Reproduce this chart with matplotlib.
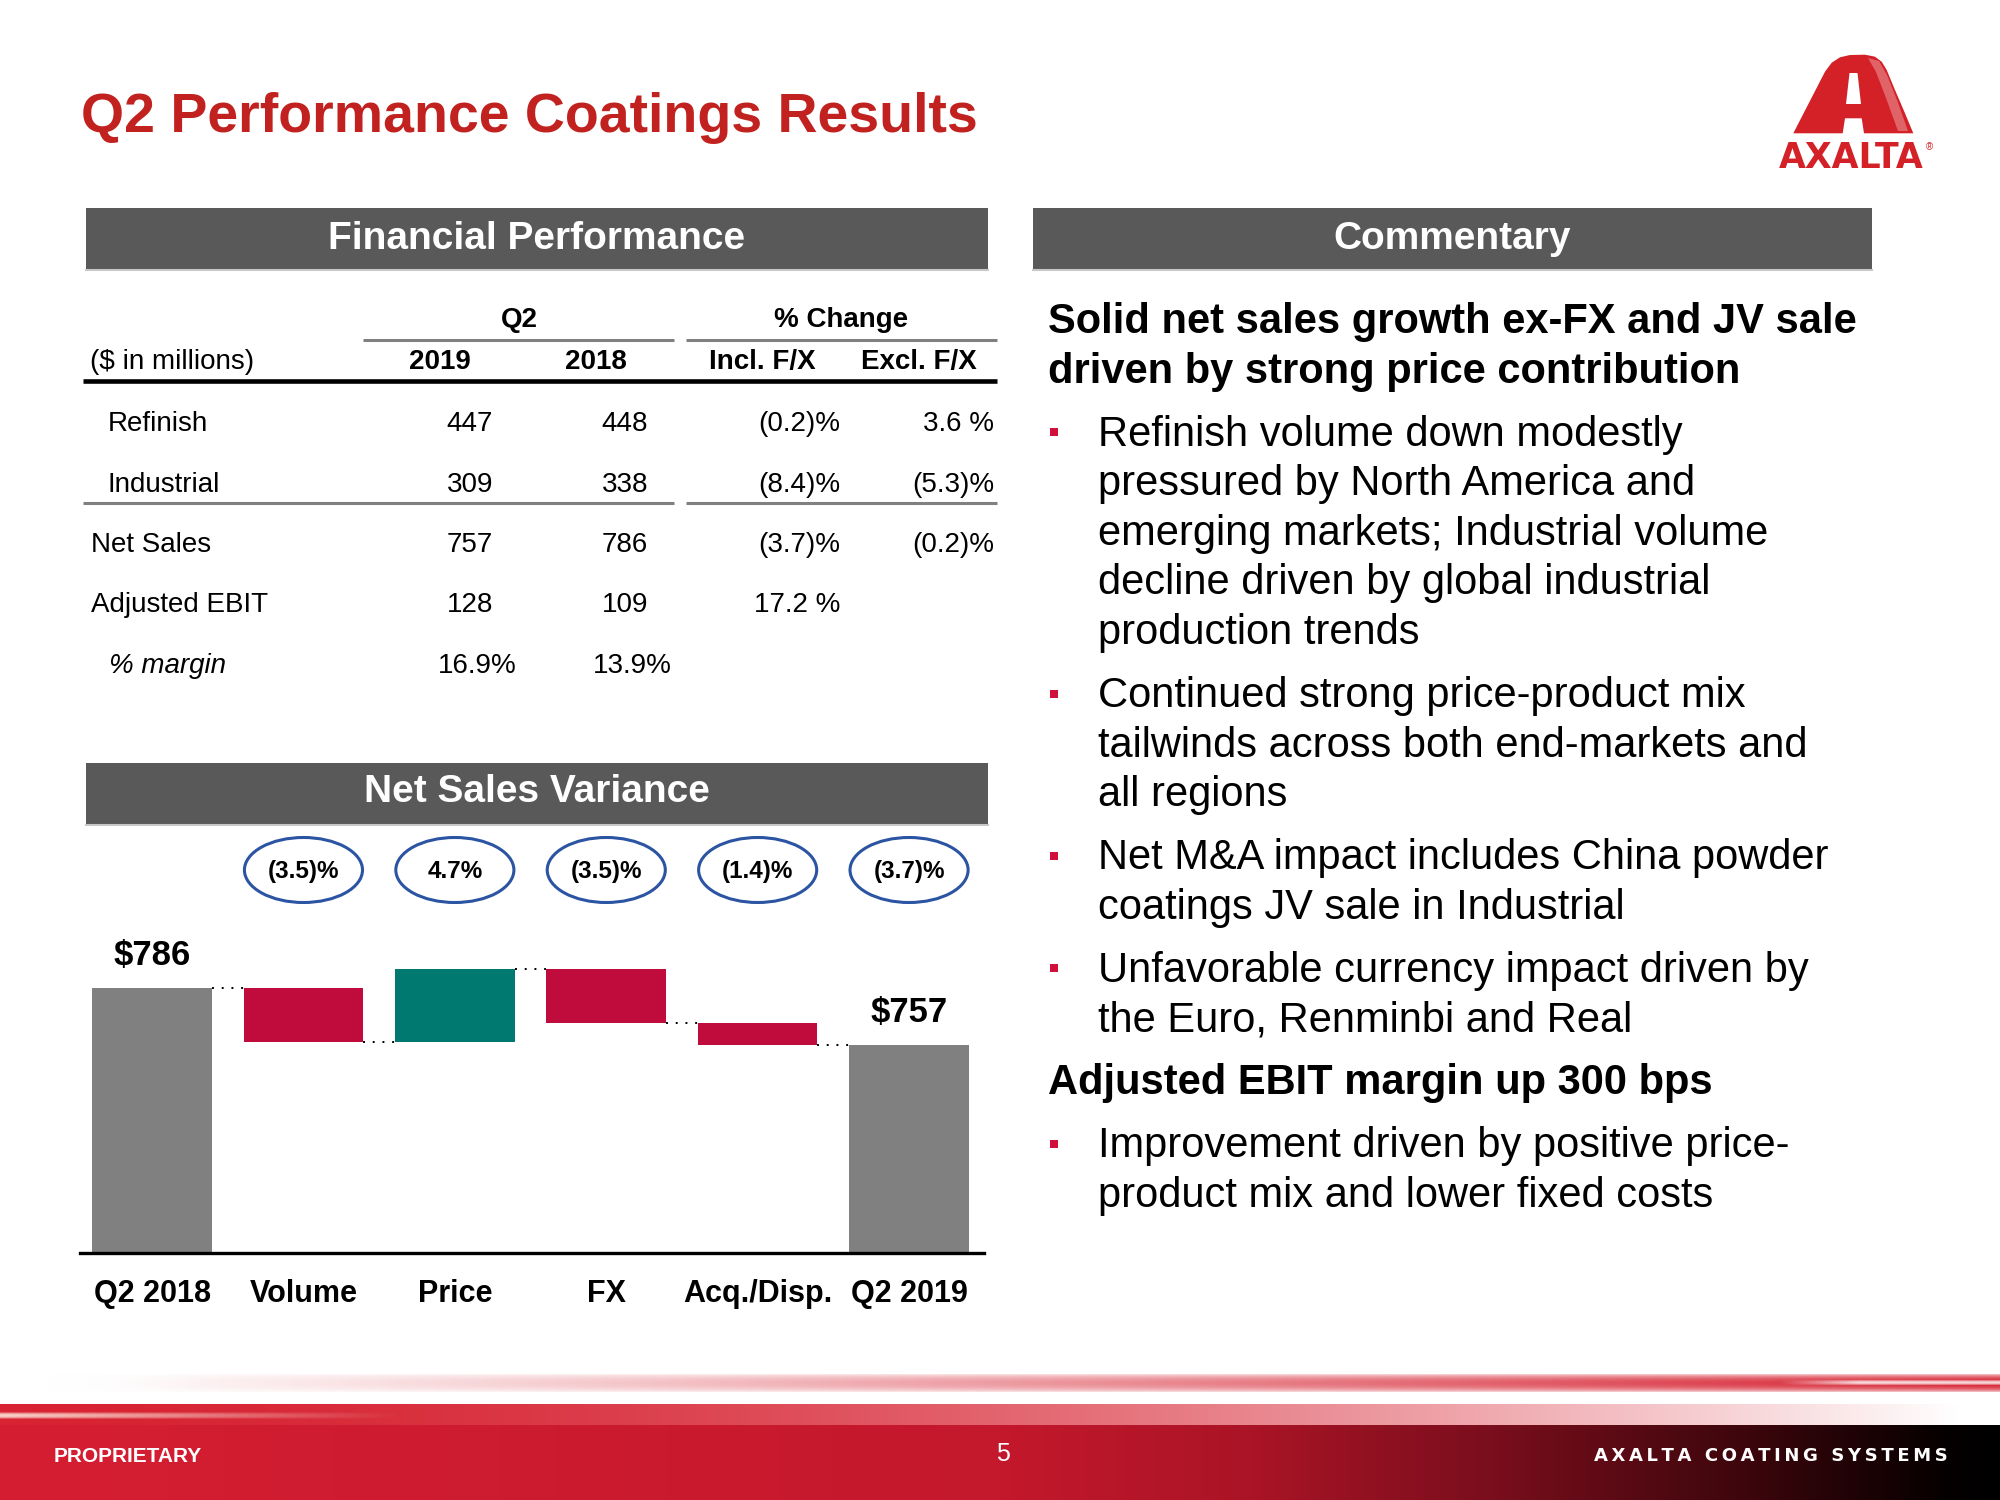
import numpy as np
import matplotlib.pyplot as plt
from matplotlib.patches import Rectangle, Ellipse, Polygon
from matplotlib.transforms import blended_transform_factory

plt.rcParams['font.family'] = ['Liberation Sans', 'DejaVu Sans']

# ---- data ----
# financial performance table ($ in millions)
row_labels = ['Refinish', 'Industrial', 'Net Sales', 'Adjusted EBIT', '% margin']
q2_2019 = ['447', '309', '757', '128', '16.9%']
q2_2018 = ['448', '338', '786', '109', '13.9%']
chg_incl = ['(0.2)%', '(8.4)%', '(3.7)%', '17.2 %', '']
chg_excl = ['3.6 %', '(5.3)%', '(0.2)%', '', '']

# net sales variance (waterfall)
wf_labels = ['Q2 2018', 'Volume', 'Price', 'FX', 'Acq./Disp.', 'Q2 2019']
wf_start = 786
wf_deltas = [-27.5, 37.0, -27.5, -11.0]
wf_end = 757
wf_pct = ['(3.5)%', '4.7%', '(3.5)%', '(1.4)%', '(3.7)%']

# commentary
head1 = ['Solid net sales growth ex-FX and JV sale',
         'driven by strong price contribution']
bullets1 = [
    ['Refinish volume down modestly', 'pressured by North America and',
     'emerging markets; Industrial volume', 'decline driven by global industrial',
     'production trends'],
    ['Continued strong price-product mix', 'tailwinds across both end-markets and',
     'all regions'],
    ['Net M&A impact includes China powder', 'coatings JV sale in Industrial'],
    ['Unfavorable currency impact driven by', 'the Euro, Renminbi and Real'],
]
head2 = ['Adjusted EBIT margin up 300 bps']
bullets2 = [['Improvement driven by positive price-', 'product mix and lower fixed costs']]

RED = '#D42027'
TITLE_RED = '#C1221F'
HDR_GRAY = '#595959'
BAR_GRAY = '#808080'
BAR_RED = '#C00C3C'
BAR_TEAL = '#007A70'
OVAL = '#2B54A2'

fig = plt.figure(figsize=(20, 15), dpi=100)
bg = fig.add_axes([0, 0, 1, 1])
bg.axis('off')

# ---- title ----
bg.text(81, 132, 'Q2 Performance Coatings Results', color=TITLE_RED,
        fontsize=40, fontweight='bold', ha='left', va='baseline')

# ---- logo ----
outer = [(1793.3, 133.3), (1825, 71.7), (1831.7, 62.7), (1840, 57.3), (1850, 55),
         (1865, 54.7), (1875, 56.7), (1881.7, 61.7), (1886.7, 70), (1895, 90),
         (1905, 113.3), (1913.3, 133.3), (1864, 133.3), (1861.7, 118.3),
         (1845, 118.3), (1842.7, 133.3)]
bg.add_patch(Polygon(outer, closed=True, facecolor=RED, edgecolor='none', zorder=2))
gloss = [(1868, 58), (1879, 61), (1887, 75), (1897, 100), (1908, 131),
         (1898, 131), (1886, 98), (1876, 72)]
bg.add_patch(Polygon(gloss, closed=True, facecolor='white', alpha=0.3, edgecolor='none', zorder=3))
counter = [(1849.5, 73), (1857.5, 73), (1861, 104), (1846, 104)]
bg.add_patch(Polygon(counter, closed=True, facecolor='white', edgecolor='none', zorder=4))
bg.text(1851, 168, 'AXALTA', color=RED, fontsize=25, fontweight='bold',
        family='DejaVu Sans', ha='center', va='baseline')
bg.text(1929, 150, '®', color=RED, fontsize=7, ha='center', va='baseline')


# ---- section headers ----
def header(x0, x1, y0, y1, text, base):
    bg.add_patch(Rectangle((x0, y0), x1 - x0, y1 - y0, facecolor=HDR_GRAY, edgecolor='none'))
    bg.plot([x0, x1], [y1 + 1, y1 + 1], color='#C8C8C8', lw=1.5)
    bg.text((x0 + x1) / 2, base, text, color='white', fontsize=28,
            fontweight='bold', ha='center', va='baseline')


header(86, 988, 208, 269, 'Financial Performance', 249)
header(1033, 1872, 208, 269, 'Commentary', 249)
header(86, 988, 763, 824, 'Net Sales Variance', 802)

# ---- table ----
fs_t = 20
bg.text(519, 327, 'Q2', fontsize=fs_t, fontweight='bold', ha='center', va='baseline')
bg.text(841, 327, '% Change', fontsize=fs_t, fontweight='bold', ha='center', va='baseline')
bg.plot([363, 674], [340, 340], color='#808080', lw=2.2, solid_capstyle='butt')
bg.plot([686, 997], [340, 340], color='#808080', lw=2.2, solid_capstyle='butt')
bg.text(90, 369, '($ in millions)', fontsize=fs_t, ha='left', va='baseline')
for cx, t in zip([440, 596, 762, 919], ['2019', '2018', 'Incl. F/X', 'Excl. F/X']):
    bg.text(cx, 369, t, fontsize=fs_t, fontweight='bold', ha='center', va='baseline')
bg.plot([83, 997], [381, 381], color='black', lw=3.3, solid_capstyle='butt')
bg.plot([83, 674], [503, 503], color='#808080', lw=2.2, solid_capstyle='butt')
bg.plot([686, 997], [503, 503], color='#808080', lw=2.2, solid_capstyle='butt')

row_base = [431, 491.5, 552, 612.5, 673]
label_x = [108, 108, 91, 91, 109]
col_right = [493, 648, 840, 994]
for i, lab in enumerate(row_labels):
    style = 'italic' if lab.startswith('%') else 'normal'
    bg.text(label_x[i], row_base[i], lab, fontsize=fs_t, fontstyle=style,
            ha='left', va='baseline')
    for j, col in enumerate([q2_2019, q2_2018, chg_incl, chg_excl]):
        v = col[i]
        if not v:
            continue
        xr = col_right[j]
        if j < 2 and v.endswith('%'):
            xr += 24
        bg.text(xr, row_base[i], v, fontsize=fs_t, ha='right', va='baseline')

# ---- commentary ----
fs_c = 30
y = 333
blocks = [('h', head1)] + [('b', b) for b in bullets1] + [('h', head2)] + [('b', b) for b in bullets2]
for k, (kind, lines) in enumerate(blocks):
    if k > 0:
        y += 63
    if kind == 'b':
        bg.add_patch(Rectangle((1050, y - 17.5), 8, 8, facecolor='#D0103A', edgecolor='none'))
    for n, line in enumerate(lines):
        if n > 0:
            y += 49.6
        if kind == 'h':
            bg.text(1048, y, line, fontsize=fs_c, fontweight='bold', ha='left', va='baseline')
        else:
            bg.text(1098, y, line, fontsize=fs_c, ha='left', va='baseline')

# ---- waterfall ----
ax = fig.add_axes([80 / 2000, 1 - 1253 / 1500, 904 / 2000, 293 / 1500])
ax.set_facecolor('none')
levels = wf_start + np.cumsum([0] + wf_deltas)
xs = np.arange(len(wf_labels))
heights = [wf_start]
bottoms = [0]
colors = [BAR_GRAY]
for i, d in enumerate(wf_deltas):
    bottoms.append(min(levels[i], levels[i + 1]))
    heights.append(abs(d))
    colors.append(BAR_TEAL if d > 0 else BAR_RED)
heights.append(wf_end)
bottoms.append(0)
colors.append(BAR_GRAY)
w = 0.79
ax.bar(xs, heights, bottom=bottoms, width=w, color=colors, edgecolor='none')
for i in range(len(wf_labels) - 1):
    ax.plot([i + w / 2, i + 1 - w / 2], [levels[i], levels[i]], color='black',
            lw=1.4, ls=(0, (1, 4)))
for sp in ['top', 'left', 'right']:
    ax.spines[sp].set_visible(False)
ax.spines['bottom'].set_linewidth(2.4)
ax.spines['bottom'].set_color('black')
ax.set_xticks([])
ax.set_yticks([])

tr = blended_transform_factory(ax.transData, bg.transData)
for i, lab in enumerate(wf_labels):
    ax.text(i, 1302, lab, transform=tr, fontsize=22, fontweight='bold',
            ha='center', va='baseline', clip_on=False)
for i, v in [(0, wf_start), (len(wf_labels) - 1, wf_end)]:
    ax.annotate(f'${v}', (i, v), xytext=(0, 16.5), textcoords='offset points',
                fontsize=25, fontweight='bold', ha='center', va='baseline')
for i, p in enumerate(wf_pct):
    ax.add_patch(Ellipse((i + 1, 870), 0.78, 65, transform=tr, fill=False,
                         edgecolor=OVAL, lw=2.2, clip_on=False))
    ax.text(i + 1, 878, p, transform=tr, fontsize=17.5, fontweight='bold',
            ha='center', va='baseline', clip_on=False)
ax.set_xlim(-0.476, 5.495)
ax.set_ylim(651, 800)


# ---- footer ----
def lerp_rgb(xv, sx, cols):
    cols = np.array(cols, dtype=float) / 255
    return np.stack([np.interp(xv, sx, cols[:, k]) for k in range(3)], axis=-1)


nx = 1000
fx = np.linspace(0, 2000, nx)

# thin upper stripe
ny = 20
img = np.ones((ny, nx, 4))
t = np.clip((fx - 50) / 1950, 0, 1) ** 1.1
redc = np.array([215, 35, 50]) / 255
img[:, :, :3] = (1 - t[:, None]) * 1 + t[:, None] * redc
vy = np.sin(np.linspace(0, np.pi, ny)) ** 0.6
ax_a = np.clip((fx - 30) / 170, 0, 1)
img[:, :, 3] = vy[:, None] * ax_a[None, :]
bg.imshow(img, extent=(0, 2000, 1393, 1373), aspect='auto', interpolation='bilinear', zorder=1)
hl = np.ones((6, nx, 4))
hl[:, :, 3] = np.clip((fx - 1780) / 80, 0, 1) * 0.85 * np.sin(np.linspace(0, np.pi, 6))[:, None]
bg.imshow(hl, extent=(0, 2000, 1386, 1379), aspect='auto', interpolation='bilinear', zorder=2)

# band top strip
img2 = np.ones((1, nx, 4))
t2 = np.clip(fx / 1960, 0, 1) ** 1.8
img2[0, :, :3] = (1 - t2[:, None]) * redc + t2[:, None] * 1
bg.imshow(img2, extent=(0, 2000, 1425, 1404), aspect='auto', interpolation='bilinear', zorder=1)
st = np.ones((6, nx, 4))
st[:, :, :3] = [1.0, 0.95, 0.9]
st[:, :, 3] = np.clip(1 - fx / 400, 0, 1) * 0.9 * np.sin(np.linspace(0, np.pi, 6))[:, None]
bg.imshow(st, extent=(0, 2000, 1420, 1411), aspect='auto', interpolation='bilinear', zorder=2)

# main band
img3 = np.ones((1, nx, 4))
img3[0, :, :3] = lerp_rgb(fx, [0, 1000, 1250, 1500, 1750, 1950, 2000],
                          [(214, 30, 50), (196, 24, 44), (170, 20, 38), (120, 14, 28),
                           (60, 6, 12), (5, 0, 0), (0, 0, 0)])
bg.imshow(img3, extent=(0, 2000, 1500, 1425), aspect='auto', interpolation='bilinear', zorder=1)

bg.text(54, 1462, 'PROPRIETARY', color='white', fontsize=15, fontweight='bold',
        ha='left', va='baseline', zorder=3)
bg.text(1003, 1461, '5', color='white', fontsize=18, ha='center', va='baseline', zorder=3)
bg.text(1948, 1461, '\u2009'.join('AXALTA COATING SYSTEMS'), color='white', fontsize=13,
        fontweight='bold', family='DejaVu Sans', ha='right', va='baseline', zorder=3)

bg.set_xlim(0, 2000)
bg.set_ylim(1500, 0)

fig.savefig('out.png', dpi=100)
